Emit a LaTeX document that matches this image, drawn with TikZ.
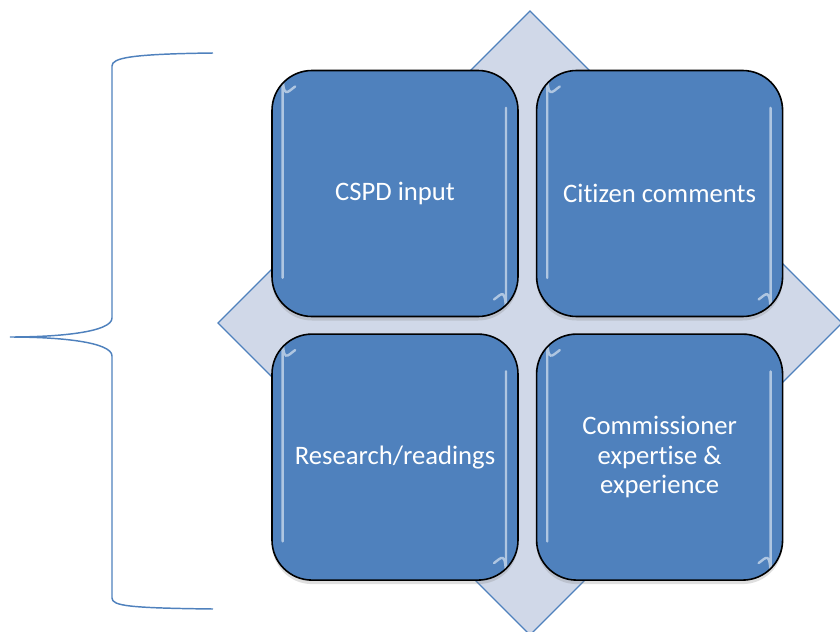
\documentclass[tikz,border=0pt]{standalone}
\usepackage{fontspec}
\setmainfont{Carlito}[Ligatures=NoCommon]
\usepackage{tikz}
\usetikzlibrary{positioning,shadows}

\definecolor{officeblue}{RGB}{79,129,189}
\definecolor{paleblue}{RGB}{208,216,232}

\begin{document}
\begin{tikzpicture}[
        x=0.75pt, y=-0.75pt,
        box/.style={
            draw=black,
            line width=1.2pt,
            rectangle,
            rounded corners=30pt,
            fill=officeblue,
            text=white,
            minimum width=184.5pt,
            minimum height=184.5pt,
            align=center,
            font=\fontsize{20}{22}\selectfont,
            drop shadow={shadow xshift=0pt, shadow yshift=-3pt, opacity=0.25},
            path picture={
                \draw[white, opacity=0.55, line width=1.8pt, line cap=round]
                    ([xshift=8pt,yshift=29pt]path picture bounding box.south west)
                    -- ([xshift=8pt,yshift=-30pt]path picture bounding box.north west)
                    arc[start angle=180, end angle=125, radius=22pt];
                \draw[white, opacity=0.55, line width=1.8pt, line cap=round]
                    ([xshift=-9pt,yshift=-28pt]path picture bounding box.north east)
                    -- ([xshift=-9pt,yshift=30pt]path picture bounding box.south east)
                    arc[start angle=0, end angle=-55, radius=21pt];
            }
        },
        brace/.style={
            draw=officeblue,
            line width=1.1pt
        }
    ]
        \useasboundingbox (0,0) rectangle (840,632);
        \clip (0,0) rectangle (840,632);

        % Diamond behind the boxes
        \draw[draw=officeblue, fill=paleblue, line width=0.9pt]
            (218,323) -- (530,11) -- (842,323) -- (530,635) -- cycle;

        % The four boxes
        \node[box] (cspd) at (395,193.5) {CSPD input};
        \node[box, right=12.75pt of cspd] (citizen) {Citizen comments};
        \node[box, below=12pt of cspd] (research) {Research/readings};
        \node[box, right=12.75pt of research] (expertise) {Commissioner\\expertise \&\\experience};

        % Brace on the left
        \coordinate (bracetop) at (213,53);
        \coordinate (bracetip) at (10,337);
        \coordinate (bracebottom) at (213,609);
        \draw[brace] (bracetop) .. controls (130,54) and (112,58) .. (112,66)
            -- (112,318) .. controls (112,332) and (60,337) .. (bracetip)
            .. controls (60,337) and (112,342) .. (112,356)
            -- (112,598) .. controls (112,606) and (130,608) .. (bracebottom);
    \end{tikzpicture}
\end{document}
